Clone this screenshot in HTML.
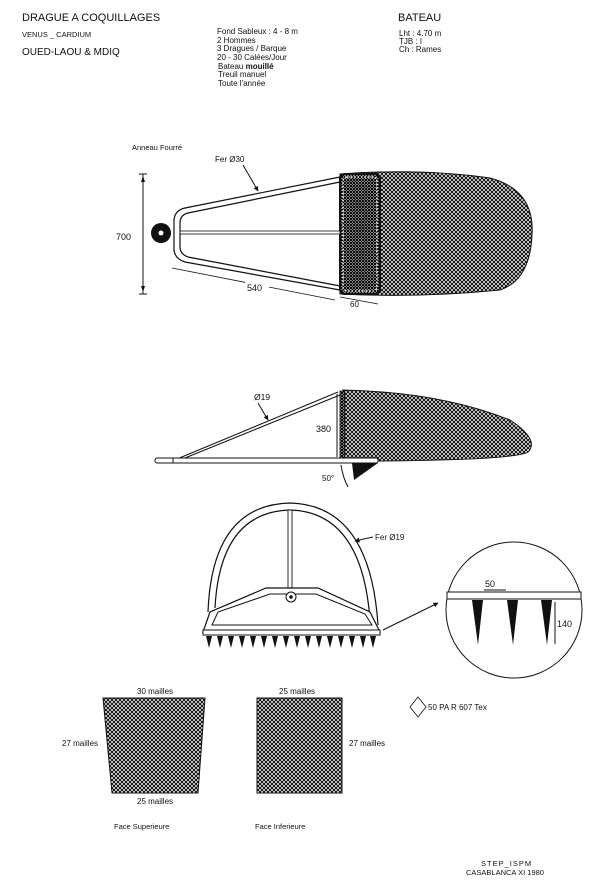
<!DOCTYPE html>
<html><head><meta charset="utf-8"><style>
html,body{margin:0;padding:0;background:#fff}
svg{display:block}
text{font-family:"Liberation Sans",sans-serif;fill:#111}
</style></head><body>
<svg width="600" height="888" viewBox="0 0 600 888" xmlns="http://www.w3.org/2000/svg">
<defs>
<pattern id="m" width="4" height="4" patternUnits="userSpaceOnUse">
<rect width="4" height="4" fill="#fff"/>
<path d="M0,0L4,4M4,0L0,4" stroke="#111" stroke-width="1.1"/>
</pattern>
<pattern id="d" width="3" height="3" patternUnits="userSpaceOnUse">
<rect width="3" height="3" fill="#fff"/>
<path d="M0,0L3,3M3,0L0,3" stroke="#000" stroke-width="1.1"/>
</pattern>
<marker id="a" viewBox="0 0 10 10" refX="9" refY="5" markerWidth="5" markerHeight="5" orient="auto"><path d="M0,0L10,5L0,10z" fill="#111"/></marker>
</defs>

<text x="22" y="21" font-size="11">DRAGUE  A COQUILLAGES</text>
<text x="22" y="37" font-size="7.5">VENUS    _ CARDIUM</text>
<text x="22" y="55" font-size="10">OUED-LAOU &amp; MDIQ</text>
<g font-size="8">
<text x="217" y="34">Fond Sableux : 4 - 8 m</text>
<text x="217" y="43">2 Hommes</text>
<text x="217" y="51">3 Dragues / Barque</text>
<text x="217" y="60">20 - 30 Calées/Jour</text>
<text x="218" y="69">Bateau <tspan font-weight="bold">mouillé</tspan></text>
<text x="218" y="77">Treuil manuel</text>
<text x="218" y="86">Toute l'année</text>
</g>
<text x="398" y="21" font-size="11">BATEAU</text>
<g font-size="8"><text x="399" y="36">Lht  : 4.70 m</text><text x="399" y="44">TJB  :  I</text><text x="399" y="52">Ch    : Rames</text></g>

<text x="132" y="150" font-size="7.5">Anneau Fourré</text>
<text x="215" y="162" font-size="8">Fer Ø30</text>
<line x1="243" y1="165" x2="258" y2="191" stroke="#111" marker-end="url(#a)"/>
<path d="M340,174 Q420,168 490,178 Q535,190 532,235 Q530,280 500,290 Q420,298 340,294 Z" fill="url(#m)" stroke="#111"/>
<rect x="340" y="174" width="40" height="120" rx="5" fill="url(#d)" stroke="#111" stroke-width="2"/>
<rect x="343" y="177" width="34" height="114" rx="4" fill="none" stroke="#fff" stroke-width="1.5" stroke-dasharray="1.5 2"/>
<g fill="none" stroke="#111" stroke-width="1.2">
<path d="M340,177 L185,208 Q175,210 174,220 L174,250 Q175,259 185,262 L340,290"/>
<path d="M340,182 L188,213 Q180,215 180,223 L180,247 Q180,254 188,257 L340,286"/>
</g>
<rect x="180" y="231" width="160" height="3" fill="#fff" stroke="#111" stroke-width="0.8"/>
<circle cx="161" cy="233" r="10" fill="#111"/><circle cx="161" cy="233" r="2.5" fill="#fff"/>
<line x1="143" y1="174" x2="143" y2="294" stroke="#111"/>
<path d="M139,174h8M139,294h8" stroke="#111"/>
<path d="M143,176l-2,6h4zM143,292l-2,-6h4z" fill="#111"/>
<text x="116" y="240" font-size="9">700</text>
<line x1="172" y1="268" x2="335" y2="300" stroke="#111" stroke-width="0.8"/>
<rect x="245" y="282" width="24" height="10" fill="#fff"/>
<text x="247" y="291" font-size="9">540</text>
<line x1="340" y1="297" x2="378" y2="304" stroke="#111" stroke-width="0.8"/>
<text x="350" y="307" font-size="8">60</text>

<path d="M343,390 Q440,392 510,420 Q540,440 528,452 Q515,460 378,461 L343,461 Z" fill="url(#m)" stroke="#111"/>
<rect x="340" y="391" width="5" height="69" fill="url(#d)" stroke="#111" stroke-width="0.8"/>
<path d="M177,459 L338,392 M180,460 L340,395" stroke="#111" fill="none"/>
<rect x="155" y="458" width="223" height="5" rx="2" fill="#fff" stroke="#111"/>
<line x1="173" y1="458" x2="173" y2="463" stroke="#111"/>
<path d="M352,463 L378,463 L354,480 Z" fill="#111"/>
<text x="254" y="400" font-size="8.5">Ø19</text>
<line x1="258" y1="403" x2="268" y2="420" stroke="#111" marker-end="url(#a)"/>
<line x1="337" y1="394" x2="337" y2="457" stroke="#111"/>
<text x="316" y="432" font-size="9">380</text>
<text x="322" y="481" font-size="8">50°</text>
<path d="M341,465 Q343,478 348,487" fill="none" stroke="#111"/>

<g fill="none" stroke="#111" stroke-width="1.2">
<path d="M208,612 Q212,505 290,503 Q370,505 378,625"/>
<path d="M215,608 Q220,512 290,510 Q362,512 370,620"/>
</g>
<rect x="288" y="510" width="4" height="78" fill="#fff" stroke="#111" stroke-width="0.9"/>
<path d="M203,632 L210,612 L266,588 L318,588 L370,612 L380,632 Z" fill="#fff" stroke="#111" stroke-width="1.2"/>
<path d="M212,625 L218,612 L270,594 L316,594 L365,614 L372,625 Z" fill="none" stroke="#111"/>
<circle cx="291" cy="597" r="5" fill="#fff" stroke="#111"/>
<circle cx="291" cy="597" r="1.8" fill="#111"/>
<rect x="203" y="630" width="177" height="5" fill="#fff" stroke="#111"/>
<g fill="#111">
<path d="M206,636h6l-3,12zM217,636h6l-3,12zM228,636h6l-3,12zM239,636h6l-3,12zM250,636h6l-3,12zM261,636h6l-3,12zM272,636h6l-3,12zM283,636h6l-3,12zM294,636h6l-3,12zM305,636h6l-3,12zM316,636h6l-3,12zM327,636h6l-3,12zM338,636h6l-3,12zM349,636h6l-3,12zM360,636h6l-3,12zM370,636h6l-3,12z"/>
</g>
<text x="375" y="540" font-size="8">Fer Ø19</text>
<line x1="373" y1="537" x2="355" y2="541" stroke="#111" marker-end="url(#a)"/>
<line x1="383" y1="630" x2="438" y2="603" stroke="#111" marker-end="url(#a)"/>
<circle cx="514" cy="610" r="68" fill="#fff" stroke="#111"/>
<rect x="447" y="592" width="134" height="7" fill="#fff" stroke="#111"/>
<path d="M472,600h11l-5,45zM507,600h11l-5,45zM541,600h11l-5,45z" fill="#111"/>
<line x1="484" y1="590" x2="506" y2="590" stroke="#111"/>
<text x="485" y="587" font-size="9">50</text>
<line x1="555" y1="602" x2="555" y2="644" stroke="#111"/>
<text x="557" y="627" font-size="9">140</text>

<path d="M103,698 L205,698 L198,793 L112,793 Z" fill="url(#m)" stroke="#111"/>
<rect x="257" y="698" width="85" height="95" fill="url(#m)" stroke="#111"/>
<text x="137" y="694" font-size="8">30 mailles</text>
<text x="62" y="746" font-size="8">27 mailles</text>
<text x="137" y="804" font-size="8">25 mailles</text>
<text x="279" y="694" font-size="8">25 mailles</text>
<text x="349" y="746" font-size="8">27 mailles</text>
<text x="114" y="829" font-size="7.5">Face Superieure</text>
<text x="255" y="829" font-size="7.5">Face Inferieure</text>
<path d="M418,697 L426,707 L418,717 L410,707 Z" fill="#fff" stroke="#111" stroke-width="0.8"/>
<text x="428" y="710" font-size="8">50 PA R 607 Tex</text>

<text x="481" y="866" font-size="7.5" letter-spacing="1">STEP_ISPM</text>
<text x="466" y="875" font-size="7.5">CASABLANCA XI 1980</text>
</svg>
</body></html>
